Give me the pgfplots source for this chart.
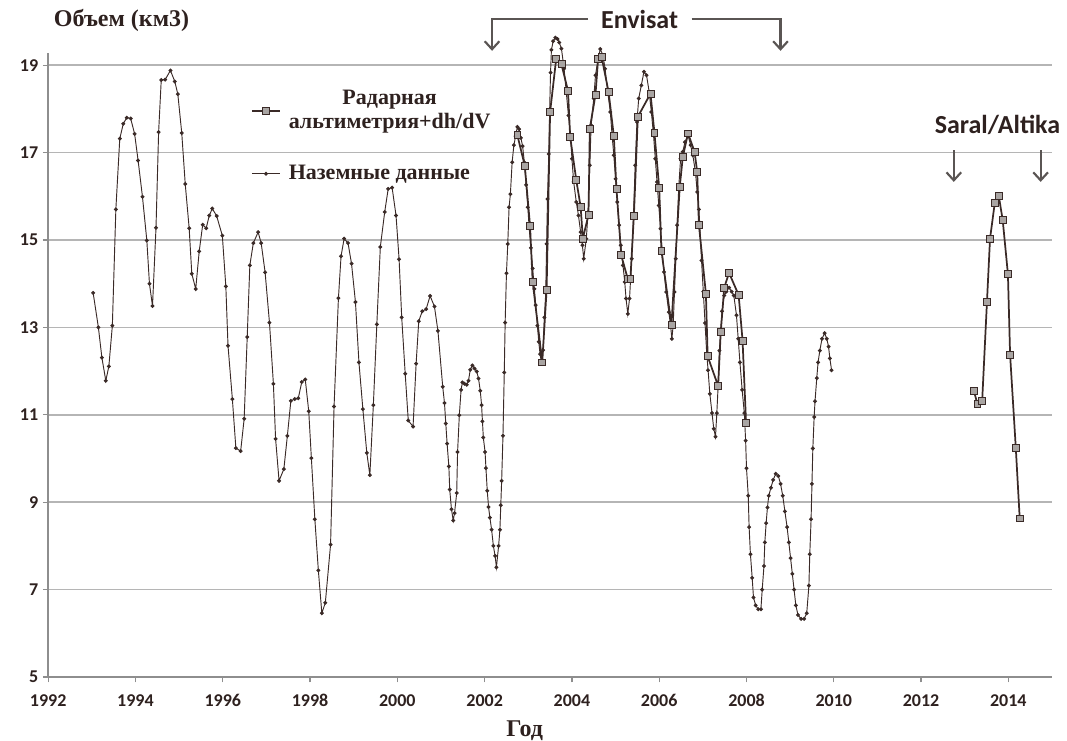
\documentclass[border=0pt]{standalone}
\usepackage{fontspec}
\setmainfont{Liberation Serif}
\newfontfamily\calib{Carlito}
\usepackage{pgfplots}
\pgfplotsset{compat=1.18}
\usetikzlibrary{arrows.meta}
\definecolor{ink}{HTML}{2E211F}
\definecolor{dat}{HTML}{3A2A27}
\definecolor{sqfill}{HTML}{A9A5A3}
\definecolor{gridc}{HTML}{B5B5B5}
\definecolor{axc}{HTML}{8E8E8E}
\definecolor{arr}{HTML}{5A5553}

\pgfplotstableread{
x y
1993.03 13.79
1993.15 13.00
1993.23 12.31
1993.32 11.78
1993.39 12.11
1993.47 13.04
1993.55 15.70
1993.64 17.32
1993.72 17.66
1993.80 17.80
1993.89 17.78
1993.98 17.43
1994.06 16.82
1994.16 15.99
1994.26 14.99
1994.32 14.00
1994.39 13.49
1994.47 15.28
1994.53 17.47
1994.59 18.66
1994.68 18.67
1994.80 18.88
1994.90 18.63
1994.97 18.34
1995.06 17.45
1995.14 16.28
1995.23 15.27
1995.29 14.23
1995.38 13.88
1995.46 14.74
1995.54 15.35
1995.62 15.27
1995.69 15.56
1995.76 15.72
1995.86 15.55
1995.99 15.10
1996.07 13.94
1996.12 12.58
1996.22 11.36
1996.30 10.24
1996.41 10.17
1996.49 10.91
1996.56 12.78
1996.62 14.42
1996.70 14.93
1996.81 15.18
1996.88 14.93
1996.97 14.26
1997.07 13.11
1997.16 11.71
1997.21 10.45
1997.29 9.49
1997.40 9.76
1997.48 10.52
1997.56 11.32
1997.65 11.36
1997.73 11.38
1997.81 11.75
1997.89 11.81
1997.97 11.08
1998.03 10.01
1998.11 8.61
1998.19 7.44
1998.27 6.46
1998.35 6.70
1998.47 8.03
1998.55 11.19
1998.65 13.67
1998.71 14.63
1998.78 15.03
1998.87 14.93
1998.95 14.46
1999.04 13.58
1999.12 12.20
1999.21 11.13
1999.30 10.13
1999.37 9.62
1999.45 11.22
1999.53 13.07
1999.61 14.84
1999.71 15.64
1999.79 16.17
1999.88 16.20
1999.97 15.56
2000.04 14.56
2000.10 13.23
2000.18 11.94
2000.25 10.87
2000.36 10.73
2000.43 12.17
2000.49 13.14
2000.57 13.37
2000.66 13.42
2000.75 13.72
2000.85 13.48
2000.93 12.92
2001.04 11.64
2001.08 11.27
2001.11 10.80
2001.14 10.34
2001.18 9.82
2001.20 9.29
2001.24 8.84
2001.28 8.58
2001.31 8.75
2001.36 9.21
2001.38 10.15
2001.42 10.99
2001.46 11.57
2001.49 11.74
2001.54 11.71
2001.59 11.69
2001.63 11.78
2001.67 12.03
2001.72 12.13
2001.77 12.06
2001.82 11.99
2001.86 11.83
2001.90 11.55
2001.93 11.22
2001.95 10.85
2001.97 10.48
2002.01 10.15
2002.03 9.78
2002.06 9.26
2002.09 8.89
2002.12 8.65
2002.16 8.37
2002.20 8.00
2002.24 7.77
2002.27 7.51
2002.32 8.00
2002.35 8.37
2002.37 8.93
2002.39 9.49
2002.42 10.52
2002.45 11.97
2002.47 13.11
2002.50 14.24
2002.53 14.91
2002.56 15.75
2002.59 16.05
2002.63 16.78
2002.67 17.17
2002.71 17.38
2002.75 17.59
2002.79 17.54
2002.83 17.34
2002.87 17.15
2002.91 16.78
2002.95 16.26
2002.99 15.75
2003.02 15.28
2003.06 14.82
2003.10 14.35
2003.14 13.88
2003.17 13.51
2003.21 13.04
2003.24 12.67
2003.27 12.39
2003.30 12.20
2003.34 12.48
2003.37 13.23
2003.40 13.79
2003.42 14.91
2003.44 15.94
2003.47 16.97
2003.49 17.99
2003.51 18.83
2003.53 19.35
2003.57 19.55
2003.62 19.63
2003.67 19.60
2003.71 19.52
2003.76 19.38
2003.82 18.92
2003.87 18.39
2003.92 17.85
2003.97 17.36
2004.00 16.86
2004.04 16.33
2004.10 15.87
2004.15 15.56
2004.20 15.18
2004.24 14.88
2004.27 14.57
2004.33 15.03
2004.37 15.64
2004.41 16.71
2004.44 17.63
2004.50 18.24
2004.54 18.77
2004.60 19.15
2004.65 19.37
2004.71 19.23
2004.76 18.92
2004.82 18.39
2004.88 17.93
2004.92 17.40
2004.96 16.94
2005.00 16.40
2005.04 15.87
2005.08 15.34
2005.12 14.88
2005.17 14.42
2005.21 14.04
2005.24 13.66
2005.28 13.31
2005.32 13.66
2005.37 14.57
2005.41 15.56
2005.45 16.71
2005.49 17.70
2005.53 18.24
2005.59 18.54
2005.65 18.85
2005.71 18.77
2005.77 18.39
2005.82 17.93
2005.87 17.40
2005.91 16.86
2005.95 16.33
2005.99 15.79
2006.03 15.26
2006.07 14.73
2006.11 14.27
2006.16 13.81
2006.22 13.35
2006.26 13.05
2006.29 12.74
2006.32 13.05
2006.35 13.81
2006.38 14.57
2006.41 15.34
2006.45 16.25
2006.49 16.86
2006.54 17.02
2006.59 17.24
2006.66 17.40
2006.72 17.17
2006.77 16.94
2006.83 16.56
2006.87 16.10
2006.91 15.70
2006.93 15.34
2006.97 14.53
2007.01 13.82
2007.05 13.10
2007.09 12.38
2007.12 12.02
2007.16 11.48
2007.21 11.04
2007.25 10.68
2007.29 10.50
2007.32 11.04
2007.35 11.66
2007.38 12.47
2007.41 12.92
2007.44 13.37
2007.49 13.73
2007.54 13.82
2007.60 13.91
2007.66 13.82
2007.71 13.73
2007.77 13.28
2007.81 12.74
2007.85 12.20
2007.90 11.57
2007.95 11.04
2007.98 10.41
2008.00 9.78
2008.04 9.15
2008.06 8.43
2008.09 7.81
2008.13 7.27
2008.16 6.82
2008.21 6.64
2008.27 6.55
2008.33 6.55
2008.36 7.00
2008.40 7.54
2008.42 8.08
2008.45 8.52
2008.48 8.88
2008.51 9.15
2008.56 9.33
2008.61 9.51
2008.67 9.65
2008.73 9.60
2008.78 9.42
2008.83 9.15
2008.88 8.79
2008.93 8.43
2008.97 8.08
2009.01 7.72
2009.05 7.36
2009.09 7.00
2009.13 6.64
2009.18 6.42
2009.25 6.33
2009.32 6.33
2009.38 6.46
2009.43 7.09
2009.45 7.81
2009.48 8.61
2009.50 9.42
2009.52 10.23
2009.55 10.95
2009.57 11.31
2009.61 11.84
2009.64 12.20
2009.68 12.47
2009.73 12.74
2009.79 12.87
2009.84 12.74
2009.88 12.56
2009.91 12.29
2009.95 12.02
}\ground

\pgfplotstableread{
x y
2002.75 17.40
2002.92 16.70
2003.04 15.33
2003.10 14.05
2003.32 12.20
2003.42 13.86
2003.50 17.93
2003.64 19.15
2003.76 19.02
2003.91 18.42
2003.96 17.36
2004.10 16.37
2004.20 15.76
2004.25 15.03
2004.38 15.58
2004.41 17.55
2004.54 18.33
2004.60 19.15
2004.68 19.19
2004.84 18.39
2004.96 17.38
2005.02 16.18
2005.13 14.65
2005.28 14.11
2005.34 14.11
2005.42 15.56
2005.51 17.82
2005.80 18.35
2005.89 17.46
2006.00 16.19
2006.05 14.76
2006.28 13.05
2006.47 16.21
2006.54 16.90
2006.66 17.44
2006.81 17.02
2006.87 16.56
2006.91 15.34
2007.07 13.77
2007.11 12.34
2007.35 11.66
2007.41 12.90
2007.49 13.91
2007.60 14.25
2007.82 13.74
2007.91 12.70
2007.99 10.81
}\radar

\pgfplotstableread{
x y
2013.21 11.55
2013.29 11.25
2013.40 11.32
2013.51 13.59
2013.58 15.03
2013.69 15.86
2013.78 16.01
2013.87 15.46
2013.99 14.22
2014.04 12.37
2014.17 10.25
2014.26 8.63
}\saral

\begin{document}
\begin{tikzpicture}
\useasboundingbox (-36.15pt,-47.25pt) rectangle (764.1pt,507.75pt);
\begin{axis}[
  scale only axis, width=752.85pt, height=468pt,
  xmin=1992, xmax=2015, ymin=5, ymax=19.28,
  axis x line=bottom, axis y line=left,
  axis line style={-, axc, line width=1.5pt},
  xtick={1992,1994,...,2014}, ytick={5,7,...,19},
  tick align=outside, major tick length=4pt,
  tick style={axc, line width=1pt},
  ymajorgrids, grid style={gridc, line width=1.2pt},
  ticklabel style={font=\calib\bfseries\fontsize{13.5}{13.5}\selectfont, text=ink},
  xticklabel style={text height=9.5pt, text depth=0pt, yshift=-5pt},
  /pgf/number format/assume math mode=true,
  /pgf/number format/1000 sep={},
  clip=false,
  reverse legend,
  legend style={at={(axis cs:1996.55,18.55)}, anchor=north west, draw=none, fill=none,
    font=\bfseries\fontsize{16.5}{17.5}\selectfont, text=ink, row sep=22pt},
  legend cell align=left,
  legend image code/.code={\draw[mark repeat=2,mark phase=2] plot coordinates {(0pt,0pt) (10.5pt,0pt) (21pt,0pt)};},
]
\addplot[dat, line width=0.7pt, mark=*, mark size=1.1pt] table[x=x,y=y] {\ground};
\addlegendentry{\hspace{4pt}Наземные данные}
\addplot[dat, line width=1.3pt, mark=square*, mark size=2.6pt,
  mark options={fill=sqfill, draw=dat, line width=0.6pt}] table[x=x,y=y] {\radar};
\addlegendentry{\hspace{4pt}\shortstack{Радарная\\альтиметрия+dh/dV}}
\addplot[dat, line width=1.3pt, mark=square*, mark size=2.6pt,
  mark options={fill=sqfill, draw=dat, line width=0.6pt}, forget plot] table[x=x,y=y] {\saral};

\node[font=\bfseries\fontsize{18}{18}\selectfont, text=ink] at (axis cs:1993.68,20.03) {Объем (км3)};
\node[font=\bfseries\fontsize{18}{18}\selectfont, text=ink] at (axis cs:2002.92,3.78) {Год};

\draw[arr, line width=1.6pt, -{Straight Barb[length=6pt,width=11pt]}]
  (axis cs:2004.37,20.05) -- (axis cs:2002.17,20.05) -- (axis cs:2002.17,19.33);
\draw[arr, line width=1.6pt, -{Straight Barb[length=6pt,width=11pt]}]
  (axis cs:2006.74,20.05) -- (axis cs:2008.78,20.05) -- (axis cs:2008.78,19.33);
\node[font=\calib\bfseries\fontsize{19.5}{19.5}\selectfont, text=ink] at (axis cs:2005.55,20.05) {Envisat};

\draw[arr, line width=1.6pt, -{Straight Barb[length=6pt,width=11pt]}]
  (axis cs:2012.75,17.06) -- (axis cs:2012.75,16.33);
\draw[arr, line width=1.6pt, -{Straight Barb[length=6pt,width=11pt]}]
  (axis cs:2014.74,17.06) -- (axis cs:2014.74,16.33);
\node[font=\calib\bfseries\fontsize{19.5}{19.5}\selectfont, text=ink] at (axis cs:2013.75,17.63) {Saral/Altika};
\end{axis}
\end{tikzpicture}
\end{document}
